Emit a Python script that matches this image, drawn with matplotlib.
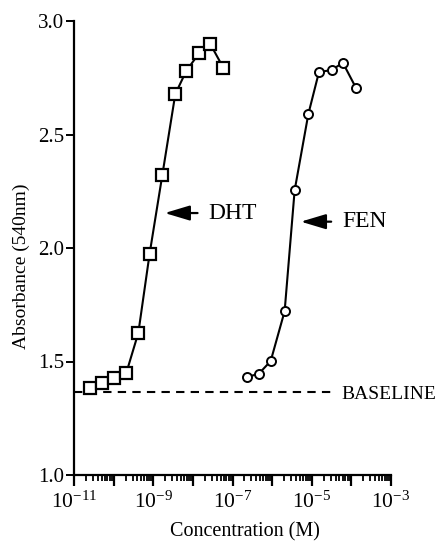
import matplotlib
matplotlib.use('Agg')
import matplotlib.pyplot as plt
from matplotlib.ticker import FixedLocator, LogLocator, NullFormatter, FuncFormatter
import numpy as np

plt.rcParams['font.family'] = ['Liberation Serif', 'DejaVu Serif']
plt.rcParams['mathtext.fontset'] = 'custom'
plt.rcParams['mathtext.rm'] = 'Liberation Serif'
plt.rcParams['mathtext.it'] = 'Liberation Serif'

# DHT dose response (squares)
dht_conc = [2.6e-11, 5.2e-11, 1.05e-10, 2.1e-10, 4.2e-10, 8.1e-10,
            1.7e-9, 3.6e-9, 6.8e-9, 1.45e-8, 2.75e-8, 5.9e-8]
dht_abs = [1.383, 1.405, 1.427, 1.451, 1.626, 1.975,
           2.323, 2.678, 2.780, 2.859, 2.899, 2.793]

# FEN dose response (circles)
fen_conc = [2.27e-7, 4.56e-7, 9.2e-7, 2.07e-6, 3.7e-6, 8.2e-6,
            1.52e-5, 3.18e-5, 6.1e-5, 1.3e-4]
fen_abs = [1.432, 1.445, 1.502, 1.722, 2.254, 2.590,
           2.775, 2.784, 2.816, 2.706]

baseline = 1.366
baseline_end = 4.0e-5

fig = plt.figure(figsize=(4.41, 5.46), dpi=100)
ax = fig.add_axes([74/441, 1 - 475/546, 317/441, 454/546])

ax.plot(dht_conc, dht_abs, color='black', lw=1.5, marker='s', ms=8.5,
        mfc='white', mec='black', mew=1.6, clip_on=False, zorder=3)
ax.plot(fen_conc, fen_abs, color='black', lw=1.5, marker='o', ms=6.5,
        mfc='white', mec='black', mew=1.4, clip_on=False, zorder=3)
ax.plot([1e-11, baseline_end], [baseline, baseline], color='black',
        lw=1.5, dashes=(4, 3))
ax.text(5.6e-5, baseline - 0.012, 'BASELINE', fontsize=14, ha='left',
        va='center', clip_on=False)

arrow = dict(arrowstyle='-|>,head_length=0.9,head_width=0.27', color='black',
             lw=1.6, shrinkA=6, shrinkB=0)
ax.annotate('DHT', xy=(1.95e-9, 2.154), xytext=(2.5e-8, 2.154), fontsize=17,
            ha='left', va='center', arrowprops=arrow)
ax.annotate('FEN', xy=(5.3e-6, 2.116), xytext=(5.9e-5, 2.116), fontsize=17,
            ha='left', va='center', arrowprops=arrow)

ax.set_xscale('log')
ax.set_xlim(1e-11, 1e-3)
ax.set_ylim(1.0, 3.0)

ax.xaxis.set_major_locator(FixedLocator([10.0**k for k in range(-11, -2)]))
ax.xaxis.set_major_formatter(FuncFormatter(
    lambda v, p: r'$10^{%d}$' % round(np.log10(v)) if round(np.log10(v)) % 2 else ''))
ax.xaxis.set_minor_locator(LogLocator(base=10, subs=np.arange(2, 10), numticks=20))
ax.xaxis.set_minor_formatter(NullFormatter())
ax.set_yticks([1.0, 1.5, 2.0, 2.5, 3.0])
ax.set_yticklabels(['1.0', '1.5', '2.0', '2.5', '3.0'])

for s in ['top', 'right']:
    ax.spines[s].set_visible(False)
for s in ['left', 'bottom']:
    ax.spines[s].set_linewidth(1.6)

ax.tick_params(axis='y', which='major', direction='out', length=6, width=1.4,
               labelsize=15, pad=1)
ax.tick_params(axis='x', which='major', direction='out', length=8, width=1.6,
               labelsize=15.5, pad=4)
ax.tick_params(axis='x', which='minor', direction='out', length=4.5, width=1.3)

ax.set_xlabel('Concentration (M)', fontsize=14.5)
ax.xaxis.set_label_coords(0.54, -0.105)
ax.set_ylabel('Absorbance (540nm)', fontsize=14)
ax.yaxis.set_label_coords(-0.14, 0.46)

fig.savefig('out.png', dpi=100)
